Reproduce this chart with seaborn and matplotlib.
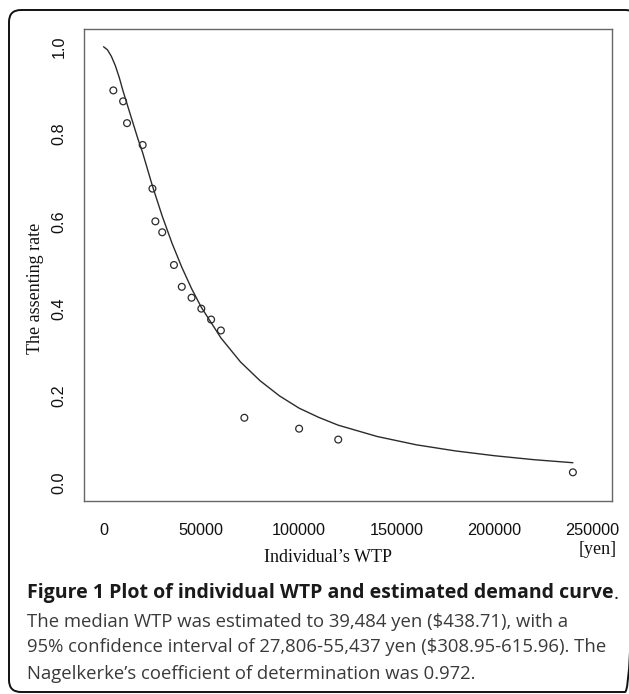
import matplotlib
matplotlib.use("Agg")
import matplotlib.pyplot as plt
import seaborn as sns
from matplotlib.patches import FancyBboxPatch

wtp = [5000, 10000, 12000, 20000, 25000, 26500, 30000, 36000, 40000,
       45000, 50000, 55000, 60000, 72000, 100000, 120000, 240000]
rate = [0.900, 0.875, 0.825, 0.775, 0.675, 0.600, 0.575, 0.500, 0.450,
        0.425, 0.400, 0.375, 0.350, 0.150, 0.125, 0.100, 0.025]

# estimated demand curve
curve_x = [0, 2000, 4000, 6000, 8000, 10000, 12500, 15000, 17500, 20000,
           25000, 30000, 35000, 40000, 45000, 50000, 60000, 70000, 80000,
           90000, 100000, 110000, 120000, 140000, 160000, 180000, 200000,
           220000, 240000]
curve_y = [1.000, 0.993, 0.978, 0.957, 0.930, 0.898, 0.862, 0.826, 0.790,
           0.757, 0.681, 0.612, 0.550, 0.495, 0.446, 0.403, 0.333, 0.278,
           0.235, 0.200, 0.172, 0.151, 0.133, 0.107, 0.088, 0.074, 0.063,
           0.054, 0.047]

x_ticks = [0, 50000, 100000, 150000, 200000, 250000]
y_ticks = [0.0, 0.2, 0.4, 0.6, 0.8, 1.0]

sns.set_style("white")
plt.rcParams['font.family'] = ['Liberation Sans', 'DejaVu Sans']

W, H = 629, 694
fig = plt.figure(figsize=(W / 100, H / 100), dpi=100)

# plot frame in pixel positions
left, right, top, bottom = 84, 612, 29.3, 500.7
ax = fig.add_axes([left / W, 1 - bottom / H, (right - left) / W, (bottom - top) / H])

sns.lineplot(x=curve_x, y=curve_y, color='#2b2b2b', linewidth=1.0, ax=ax)
sns.scatterplot(x=wtp, y=rate, marker='o', s=24, facecolor='none',
                edgecolor='#2b2b2b', linewidth=0.9, ax=ax)

ax.set_xlim(-10000, 260000)
ax.set_ylim(-0.04, 1.04)
ax.set_xticks(x_ticks)
ax.set_xticklabels([str(v) for v in x_ticks])
ax.set_yticks(y_ticks)
ax.set_yticklabels([f"{v:.1f}" for v in y_ticks], rotation=90, va='center')
ax.tick_params(axis='both', direction='out', length=6.5, width=1.0,
               color='#555555', labelsize=11.7, labelcolor='#111111')
ax.tick_params(axis='x', pad=9.5)
ax.tick_params(axis='y', pad=6)
for sp in ax.spines.values():
    sp.set_color('#666666')
    sp.set_linewidth(1.0)
ax.set_xlabel('')
ax.set_ylabel('')

serif = ['Liberation Serif', 'DejaVu Serif']
fig.text(328 / W, 1 - 557 / H, "Individual\u2019s WTP", family=serif, fontsize=13,
         ha='center', va='center', color='#111111')
fig.text(617 / W, 1 - 550 / H, "[yen]", family=serif, fontsize=13,
         ha='right', va='center', color='#111111')
fig.text(35 / W, 1 - 288 / H, "The assenting rate", family=serif, fontsize=13,
         rotation=90, ha='center', va='center', color='#111111')

# caption
cap = ['Open Sans', 'DejaVu Sans']
full = fig.add_axes([0, 0, 1, 1])
full.set_axis_off()
full.set_xlim(0, W)
full.set_ylim(H, 0)
full.patch.set_alpha(0)
t1 = full.text(26.7, 593, "Figure 1 Plot of individual WTP and estimated demand curve",
               family=cap, fontsize=14, fontweight='bold', color='#1a1a1a',
               ha='left', va='center')
full.annotate(".", xy=(1, 0), xycoords=t1, family=cap, fontsize=14,
              color='#1a1a1a', ha='left', va='bottom')
lines = ["The median WTP was estimated to 39,484 yen ($438.71), with a",
         "95% confidence interval of 27,806-55,437 yen ($308.95-615.96). The",
         "Nagelkerke\u2019s coefficient of determination was 0.972."]
for yy, s in zip([621.7, 647.5, 674], lines):
    full.text(26.7, yy, s, family=cap, fontsize=13.3, color='#3a3a3a',
              ha='left', va='center')

box = FancyBboxPatch((9, 10), 628, 682, boxstyle="round,pad=0,rounding_size=12",
                     fill=False, edgecolor='#111111', linewidth=1.4,
                     transform=full.transData, clip_on=False)
full.add_patch(box)

fig.savefig("out.png", dpi=100)
